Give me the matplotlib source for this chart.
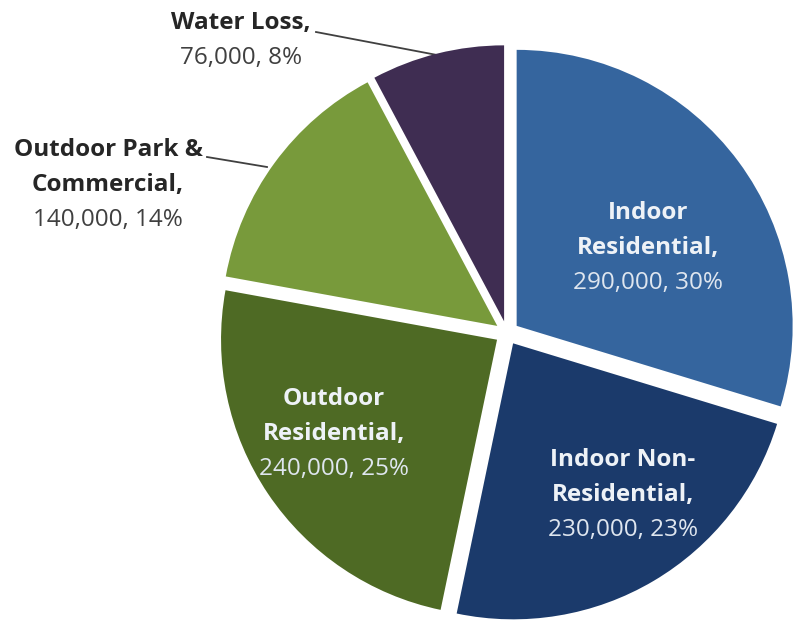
import numpy as np
import matplotlib
matplotlib.use("Agg")
import matplotlib.pyplot as plt

categories = ["Indoor Residential", "Indoor Non-Residential", "Outdoor Residential",
              "Outdoor Park & Commercial", "Water Loss"]
values = [290000, 230000, 240000, 140000, 76000]
pct_labels = ["30%", "23%", "25%", "14%", "8%"]
name_lines = [["Indoor", "Residential,"], ["Indoor Non-", "Residential,"],
              ["Outdoor", "Residential,"], ["Outdoor Park &", "Commercial,"], ["Water Loss,"]]
colors = ["#35659e", "#1b3a6b", "#4e6a24", "#789a3b", "#3f2d52"]

plt.rcParams['font.family'] = ['Open Sans', 'DejaVu Sans']
FS = 17.5
fig = plt.figure(figsize=(7.98, 6.24), dpi=100)
ax = fig.add_axes([0, 0, 1, 1])
R = 276.0
cx, cy = 507.0, 333.0

explode = [0.0435] * 5
wedges, _ = ax.pie(values, colors=colors, startangle=90, counterclock=False,
                   explode=explode, radius=1.0,
                   wedgeprops=dict(linewidth=0))
ax.set_xlim(-cx / R, (798 - cx) / R)
ax.set_ylim(-(624 - cy) / R, cy / R)
ax.set_aspect('equal')
ax.axis('off')

def P(px, py):
    return ((px - cx) / R, (cy - py) / R)

step = 35 / R

def lab(x, y, lines, color):
    for i, t in enumerate(lines):
        ax.text(x, y - i * step, t, ha='center', va='center', fontsize=FS,
                fontweight='bold', color=color)
    return y - len(lines) * step

def num_text(i):
    return f"{values[i]:,}, {pct_labels[i]}"

inside = {0: (648, 213), 1: (623, 460), 2: (334, 399)}
for i, (px, py) in inside.items():
    x, y = P(px, py)
    ny = lab(x, y, name_lines[i], "#eef2f7")
    ax.text(x, ny, num_text(i), ha='center', va='center', fontsize=FS, color="#dfe6ef")

outside = {3: (108, 150), 4: (241, 23)}
for i, (px, py) in outside.items():
    x, y = P(px, py)
    ny = lab(x, y, name_lines[i], "#262626")
    ax.text(x, ny, num_text(i), ha='center', va='center', fontsize=FS, color="#404040")

leaders = {3: ((207, 157), (267, 167)), 4: ((316, 32), (437, 55))}
for i, (p0, p1) in leaders.items():
    x0, y0 = P(*p0)
    x1, y1 = P(*p1)
    ax.plot([x0, x1], [y0, y1], color="#404040", lw=1.3, zorder=0)

fig.savefig("out.png", dpi=100, facecolor="white")
